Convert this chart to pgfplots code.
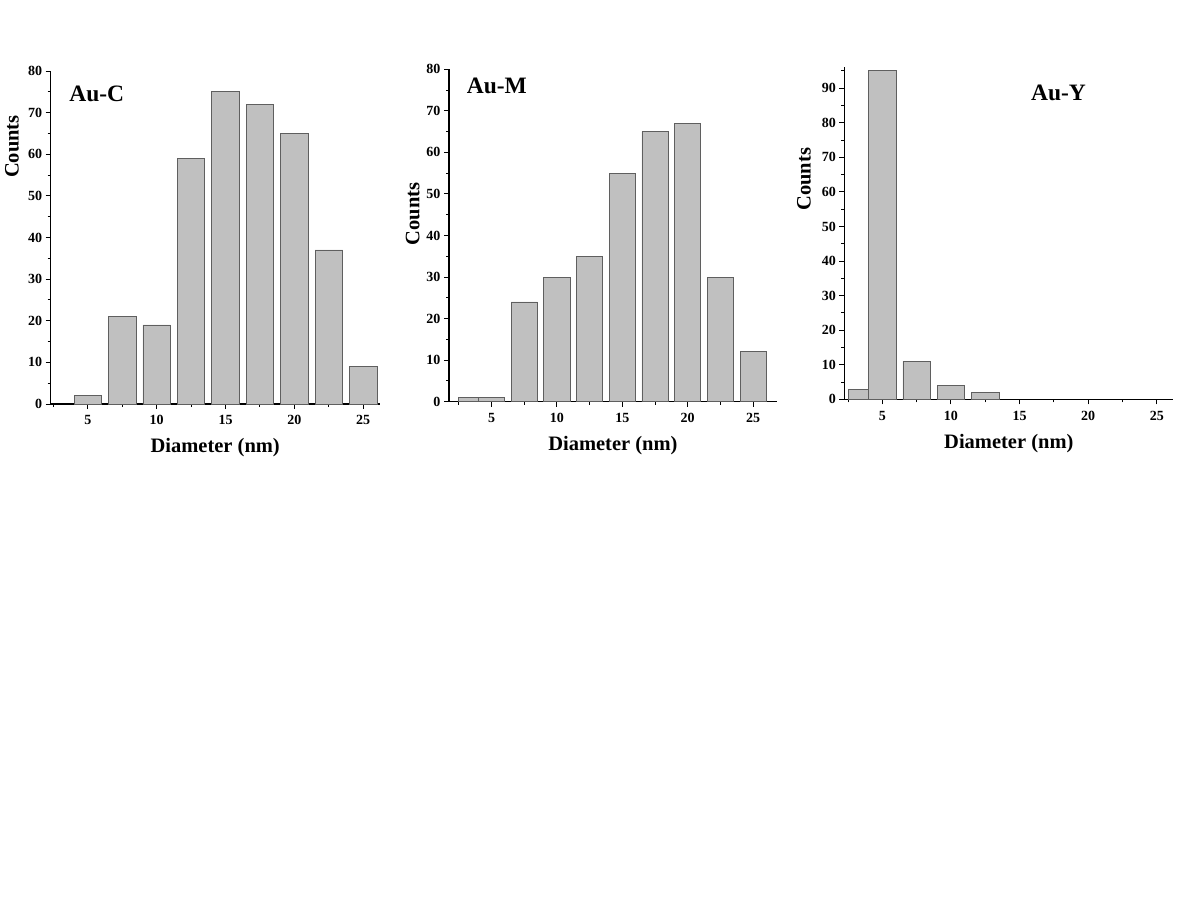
\documentclass[border=0pt]{standalone}
\usepackage{fontspec}
\setmainfont{Liberation Serif}
\usepackage{pgfplots}
\pgfplotsset{compat=1.18}

\definecolor{barfill}{RGB}{192,192,192}
\definecolor{baredge}{RGB}{95,95,95}

\pgfplotsset{
  histo/.style={
    scale only axis,
    anchor=south west,
    axis lines*=left,
    axis line style={line width=1.2pt},
    tick style={line width=1pt, black},
    tick align=outside,
    major tick length=5pt,
    minor tick length=3pt,
    xtick={5,10,15,20,25},
    minor xtick={2.5,7.5,12.5,17.5,22.5},
    ymin=0,
    /pgf/number format/assume math mode=true,
    tick label style={font=\fontsize{14}{16}\selectfont\bfseries},
    xticklabel style={yshift=-3pt},
    label style={font=\fontsize{20.5}{24}\selectfont\bfseries},
    xlabel={Diameter (nm)},
    ylabel={Counts},
    xlabel style={at={(rel axis cs:0.5,0)}, anchor=center, yshift=-44pt},
    clip=false,
  },
  bars/.style={ybar, bar shift=0pt, bar width=2, fill=barfill, draw=baredge, line width=0.8pt},
}

\begin{document}
\begin{tikzpicture}
\fill[white] (0,0) rectangle (1200pt,-923pt);
\path[use as bounding box] (0,0) rectangle (1200pt,-923pt);

% Au-C
\begin{axis}[histo,
  at={(50.7pt,-404pt)}, width=329pt, height=333pt,
  xmin=2.3, xmax=26.2, ymax=80,
  ytick={0,10,...,80}, minor ytick={5,15,...,75},
  ylabel style={at={(rel axis cs:-0.118,0.773)}, anchor=center},
]
\addplot[bars] coordinates {
  (5,2) (7.5,21) (10,19) (12.5,59) (15,75) (17.5,72) (20,65) (22.5,37) (25,9)
};
\node[font=\fontsize{23.5}{26}\selectfont\bfseries] at (rel axis cs:0.14,0.93) {Au-C};
\end{axis}

% Au-M
\begin{axis}[histo,
  at={(449pt,-401.7pt)}, width=327.7pt, height=332.4pt,
  xmin=1.75, xmax=26.8, ymax=80,
  ytick={0,10,...,80}, minor ytick={5,15,...,75},
  ylabel style={at={(rel axis cs:-0.111,0.565)}, anchor=center},
]
\addplot[bars, bar width=1.5] coordinates {(3.25,1)};
\addplot[bars] coordinates {
  (5,1) (7.5,24) (10,30) (12.5,35) (15,55) (17.5,65) (20,67) (22.5,30) (25,12)
};
\node[font=\fontsize{23.5}{26}\selectfont\bfseries] at (rel axis cs:0.146,0.95) {Au-M};
\end{axis}

% Au-Y
\begin{axis}[histo,
  at={(844.3pt,-399.3pt)}, width=329pt, height=332.6pt,
  xmin=2.23, xmax=26.2, ymax=96.2,
  ytick={0,10,...,90}, minor ytick={5,15,...,95},
  ylabel style={at={(rel axis cs:-0.123,0.662)}, anchor=center},
]
\addplot[bars, bar width=1.5] coordinates {(3.25,3)};
\addplot[bars] coordinates {
  (5,95) (7.5,11) (10,4) (12.5,2)
};
\node[font=\fontsize{23.5}{26}\selectfont\bfseries] at (rel axis cs:0.651,0.922) {Au-Y};
\end{axis}
\end{tikzpicture}
\end{document}
